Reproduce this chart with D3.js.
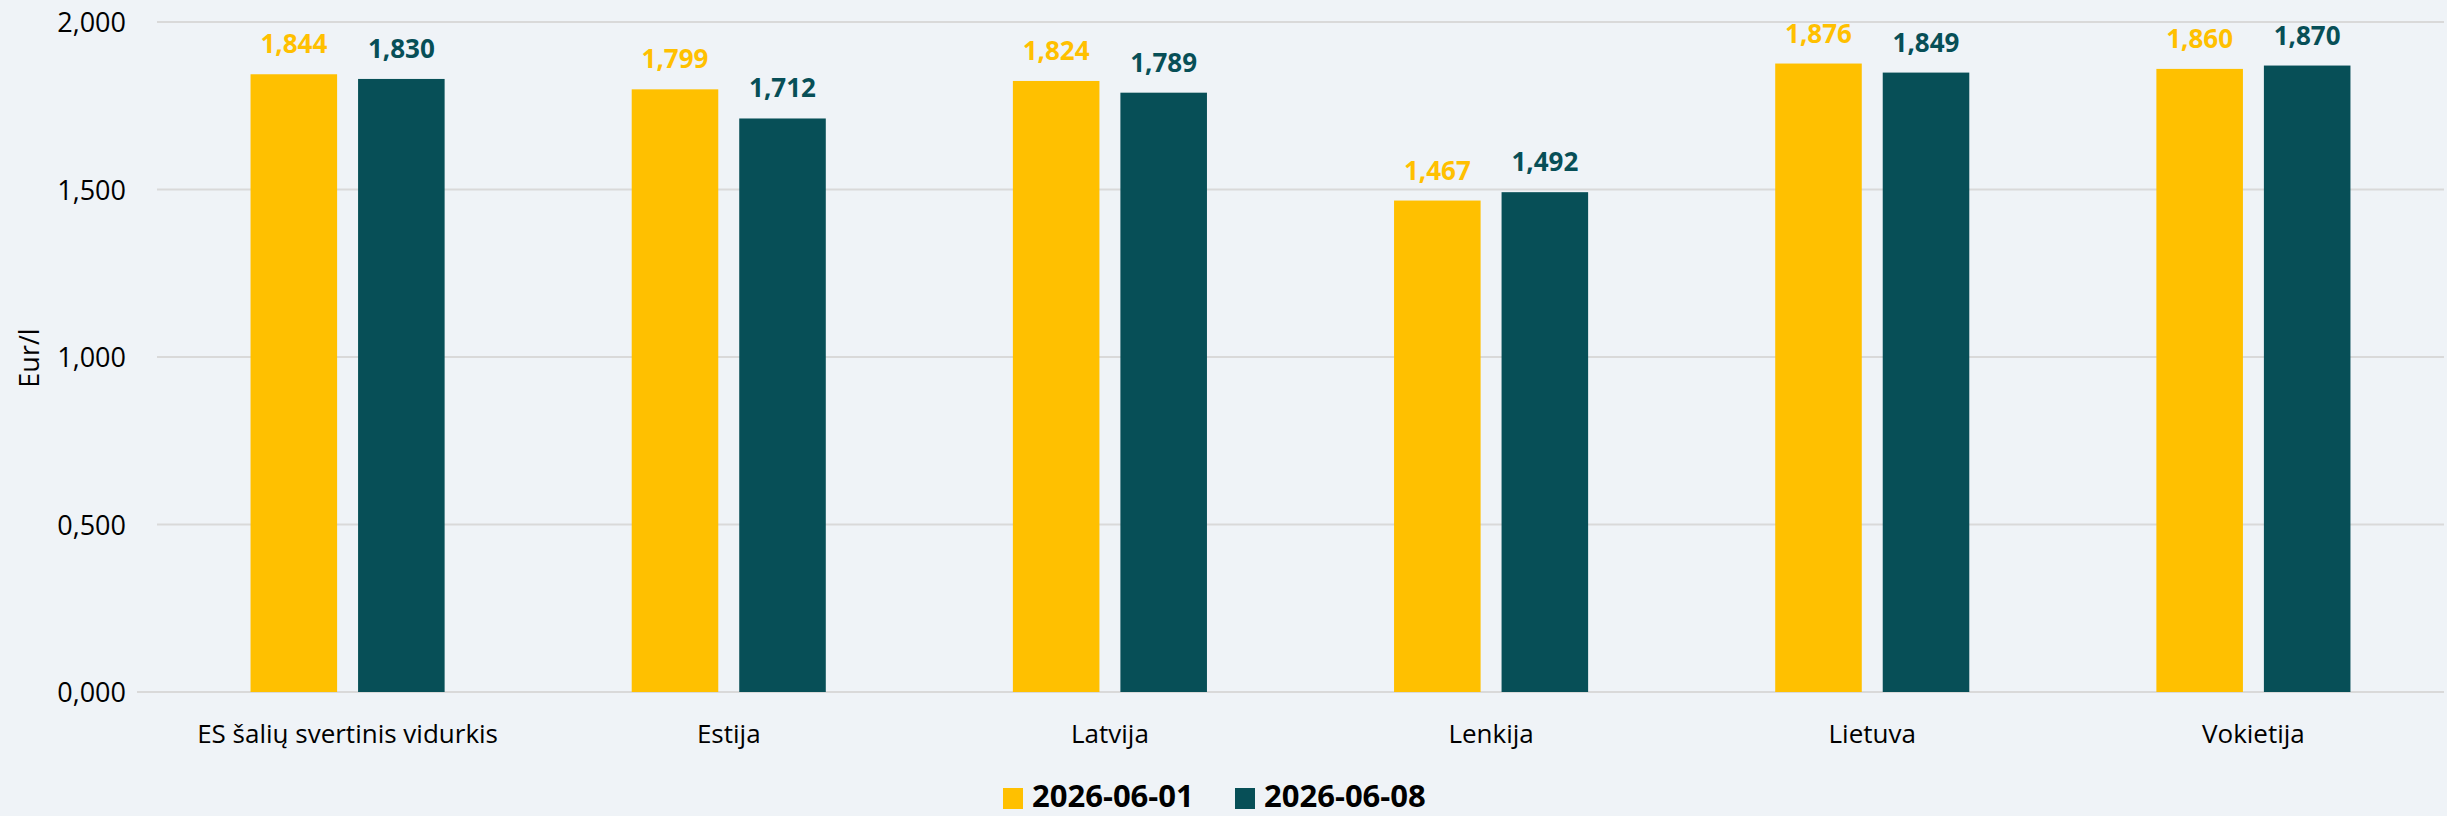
<!DOCTYPE html>
<html lang="lt">
<head>
    <meta charset="UTF-8">
    <title>Kainos</title>
    <style>
        body { margin: 0; background: #eff3f7; }
        svg { display: block; font-family: "Open Sans", "Noto Sans", sans-serif; }
    </style>
</head>
<body>
<script src="https://d3js.org/d3.v7.min.js"></script>
<script>
    // data
    var categories = ["ES šalių svertinis vidurkis", "Estija", "Latvija", "Lenkija", "Lietuva", "Vokietija"];
    var seriesNames = ["2026-06-01", "2026-06-08"];
    var values0601 = [1.844, 1.799, 1.824, 1.467, 1.876, 1.860];
    var values0608 = [1.830, 1.712, 1.789, 1.492, 1.849, 1.870];
    var yTicks = [0, 0.5, 1, 1.5, 2];
    var colors = ["#ffc000", "#074f57"];

    var W = 2447, H = 816;
    // plot area (note: "top" is taken by window.top, so use other names)
    var plotLeft = 157, plotRight = 2444, plotTop = 22, plotBottom = 692;

    var svg = d3.select("body")
                .append("svg")
                .attr("width", W)
                .attr("height", H);

    svg.append("rect").attr("width", W).attr("height", H).attr("fill", "#eff3f7");

    var fmt = function (v) { return d3.format(".3f")(v).replace(".", ","); };

    var x0 = d3.scaleBand().domain(categories).range([plotLeft, plotRight]).padding(0);
    var x1 = d3.scaleBand().domain(seriesNames).range([0, x0.bandwidth()])
               .paddingInner(0.195).paddingOuter(0.87);
    var y = d3.scaleLinear().domain([0, 2]).range([plotBottom, plotTop]);

    // gridlines
    svg.append("g").selectAll("line")
        .data(yTicks)
        .join("line")
        .attr("x1", function (d) { return d === 0 ? 137 : plotLeft; })
        .attr("x2", plotRight)
        .attr("y1", function (d) { return y(d); })
        .attr("y2", function (d) { return y(d); })
        .attr("stroke", "#d9d9d9")
        .attr("stroke-width", 2);

    // y tick labels
    svg.append("g").selectAll("text")
        .data(yTicks)
        .join("text")
        .attr("x", 126)
        .attr("y", function (d) { return y(d) + 10; })
        .attr("text-anchor", "end")
        .attr("font-size", 27)
        .attr("fill", "#000")
        .text(fmt);

    // y title
    svg.append("text")
        .attr("transform", "translate(39,358) rotate(-90)")
        .attr("text-anchor", "middle")
        .attr("font-size", 27)
        .attr("fill", "#000")
        .text("Eur/l");

    var seriesValues = [values0601, values0608];

    seriesNames.forEach(function (s, si) {
        var g = svg.append("g");
        g.selectAll("rect")
            .data(categories)
            .join("rect")
            .attr("x", function (c) { return x0(c) + x1(s); })
            .attr("width", x1.bandwidth())
            .attr("y", function (c, i) { return y(seriesValues[si][i]); })
            .attr("height", function (c, i) { return plotBottom - y(seriesValues[si][i]); })
            .attr("fill", colors[si]);

        g.selectAll("text")
            .data(categories)
            .join("text")
            .attr("x", function (c) { return x0(c) + x1(s) + x1.bandwidth() / 2; })
            .attr("y", function (c, i) { return y(seriesValues[si][i]) - 21; })
            .attr("text-anchor", "middle")
            .attr("font-size", 26)
            .attr("font-weight", "bold")
            .attr("fill", colors[si])
            .text(function (c, i) { return fmt(seriesValues[si][i]); });
    });

    // category labels
    svg.append("g").selectAll("text")
        .data(categories)
        .join("text")
        .attr("x", function (c) { return x0(c) + x0.bandwidth() / 2; })
        .attr("y", 743)
        .attr("text-anchor", "middle")
        .attr("font-size", 26)
        .attr("fill", "#000")
        .text(function (c) { return c; });

    // legend
    var legendX = [1003, 1235];
    seriesNames.forEach(function (s, i) {
        svg.append("rect")
            .attr("x", legendX[i]).attr("y", 788)
            .attr("width", 20).attr("height", 21)
            .attr("fill", colors[i]);
        svg.append("text")
            .attr("x", legendX[i] + 29).attr("y", 807)
            .attr("font-size", 31)
            .attr("font-weight", "bold")
            .attr("fill", "#000")
            .text(s);
    });
</script>
</body>
</html>
